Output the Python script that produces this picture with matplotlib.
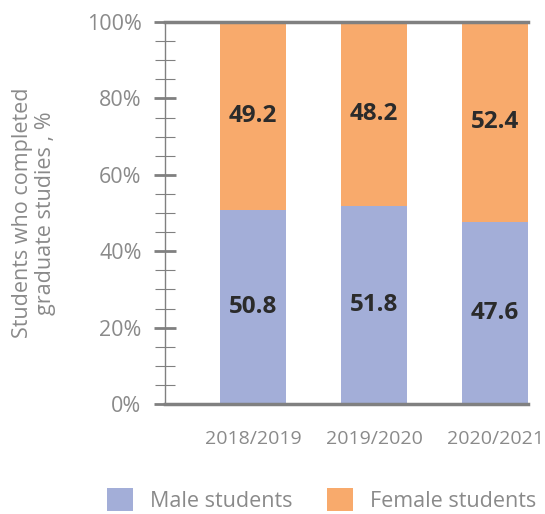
import numpy as np
from matplotlib import pyplot as plt
from matplotlib.ticker import MultipleLocator, PercentFormatter

years = ['2018/2019', '2019/2020', '2020/2021']
male = [50.8, 51.8, 47.6]
female = [49.2, 48.2, 52.4]

male_color = '#A3AED8'
female_color = '#F8AA6C'
grey = '#808080'
text_grey = '#8a8a8a'

plt.rcParams['font.family'] = ['Open Sans', 'DejaVu Sans']

fig = plt.figure(figsize=(5.45, 5.14), dpi=100)
ax = fig.add_axes([0.303, 0.214, 0.666, 0.743])

x = np.arange(len(years))
width = 0.545
ax.bar(x, male, width, color=male_color, label='Male students', zorder=2)
ax.bar(x, female, width, bottom=male, color=female_color, label='Female students', zorder=2)

# Value labels centred in each segment
for xi, m, f in zip(x, male, female):
    ax.text(xi, m / 2, f'{m:.1f}', ha='center', va='center', fontsize=17.5,
            fontweight='bold', color='#2b2b2b', zorder=3)
    ax.text(xi, m + f / 2, f'{f:.1f}', ha='center', va='center', fontsize=17.5,
            fontweight='bold', color='#2b2b2b', zorder=3)

ax.set_xlim(-0.727, 2.273)
ax.set_ylim(0, 100)
ax.set_xticks(x)
ax.set_xticklabels(years, fontsize=14, color=text_grey)
ax.tick_params(axis='x', length=0, pad=19)

ax.yaxis.set_major_locator(MultipleLocator(20))
ax.yaxis.set_minor_locator(MultipleLocator(5))
ax.yaxis.set_major_formatter(PercentFormatter(decimals=0))
ax.tick_params(axis='y', which='major', direction='inout', length=16, width=2,
               color=grey, labelsize=15.5, labelcolor=text_grey, pad=9)
ax.tick_params(axis='y', which='minor', direction='inout', length=15, width=0.8,
               color=grey)

for side in ['top', 'bottom']:
    ax.spines[side].set_color(grey)
    ax.spines[side].set_linewidth(2.5)
    ax.spines[side].set_zorder(4)
ax.spines['left'].set_color(grey)
ax.spines['left'].set_linewidth(1)
ax.spines['right'].set_visible(False)

ax.set_ylabel('Students who completed\ngraduate studies , %', fontsize=15.5,
              color=text_grey, linespacing=1.15, labelpad=22)

fig.legend(loc='center', bbox_to_anchor=(0.591, 0.027), ncol=2, frameon=False,
           fontsize=15.5, labelcolor=text_grey, handlelength=1.2, handleheight=1.2,
           columnspacing=1.6, handletextpad=0.8)

fig.savefig('out.png', dpi=100)
